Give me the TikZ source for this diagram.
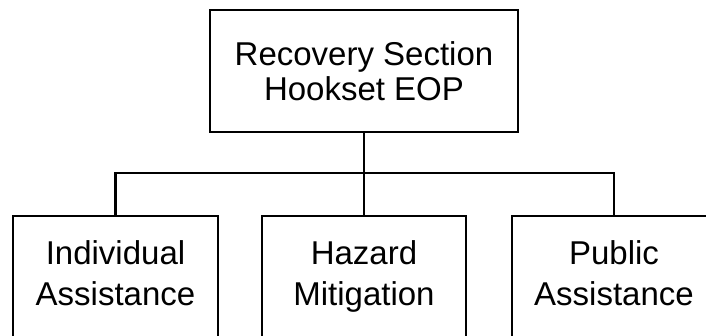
\documentclass[tikz,border=0pt]{standalone}
\usepackage{fontspec}
\setmainfont{Liberation Sans}
\begin{document}
\begin{tikzpicture}[x=1pt,y=-1pt,
  box/.style={draw, line width=2.2pt, inner sep=0pt, align=center,
    minimum height=122pt},
  branch/.style={box, font=\fontsize{33}{41}\selectfont},
  conn/.style={draw, line width=2.2pt, line join=miter}]
  \useasboundingbox (0,0) rectangle (706,336);
  % head of the section
  \node[box, minimum width=308pt, font=\fontsize{33}{35}\selectfont]
    (head) at (364,71) {Recovery Section\\Hookset EOP};
  % the three branches (struts keep their baselines level)
  \node[branch, minimum width=205pt]
    (ia) at (115.5,277) {\strut Individual\\\strut Assistance};
  \node[branch, minimum width=204pt]
    (hm) at (364,277) {\strut Hazard\\\strut Mitigation};
  \node[branch, minimum width=204pt]
    (pa) at (614,277) {\strut Public\\\strut Assistance};
  % tree connectors
  \coordinate (bar) at (0,173);
  \draw[conn] (head.south) -- (hm.north);
  \draw[conn] (ia.north) |- (pa.north |- bar) -- (pa.north);
\end{tikzpicture}
\end{document}
